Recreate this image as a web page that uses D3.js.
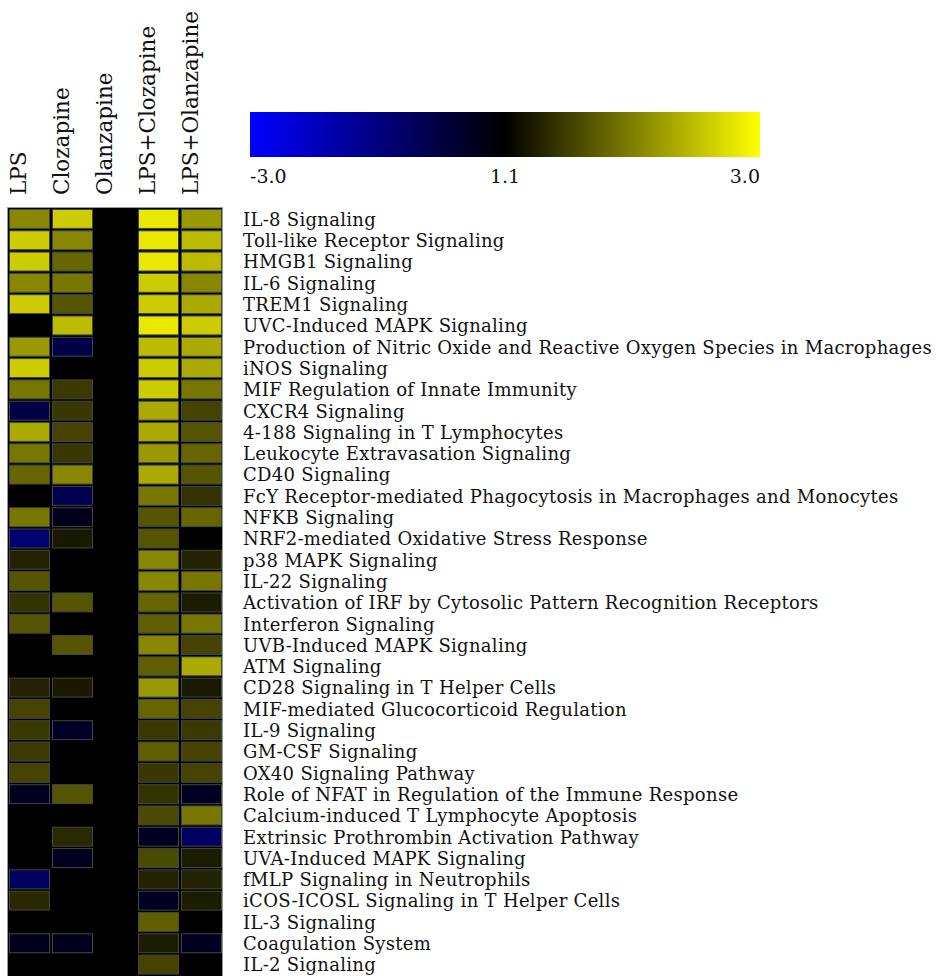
<!DOCTYPE html>
<html>
<head>
<meta charset="utf-8">
<script src="https://cdn.jsdelivr.net/npm/d3@7"></script>
<style>
  body { margin: 0; background: #fff; }
  text { font-family: "DejaVu Serif", "Liberation Serif", serif; fill: #111; }
</style>
</head>
<body>
<svg id="chart" width="943" height="976"></svg>
<script>
// conditions (columns)
const conditions = ['LPS', 'Clozapine', 'Olanzapine', 'LPS+Clozapine', 'LPS+Olanzapine'];

// canonical pathways (rows)
const pathways = [
  'IL-8 Signaling',
  'Toll-like Receptor Signaling',
  'HMGB1 Signaling',
  'IL-6 Signaling',
  'TREM1 Signaling',
  'UVC-Induced MAPK Signaling',
  'Production of Nitric Oxide and Reactive Oxygen Species in Macrophages',
  'iNOS Signaling',
  'MIF Regulation of Innate Immunity',
  'CXCR4 Signaling',
  '4-188 Signaling in T Lymphocytes',
  'Leukocyte Extravasation Signaling',
  'CD40 Signaling',
  'FcY Receptor-mediated Phagocytosis in Macrophages and Monocytes',
  'NFKB Signaling',
  'NRF2-mediated Oxidative Stress Response',
  'p38 MAPK Signaling',
  'IL-22 Signaling',
  'Activation of IRF by Cytosolic Pattern Recognition Receptors',
  'Interferon Signaling',
  'UVB-Induced MAPK Signaling',
  'ATM Signaling',
  'CD28 Signaling in T Helper Cells',
  'MIF-mediated Glucocorticoid Regulation',
  'IL-9 Signaling',
  'GM-CSF Signaling',
  'OX40 Signaling Pathway',
  'Role of NFAT in Regulation of the Immune Response',
  'Calcium-induced T Lymphocyte Apoptosis',
  'Extrinsic Prothrombin Activation Pathway',
  'UVA-Induced MAPK Signaling',
  'fMLP Signaling in Neutrophils',
  'iCOS-ICOSL Signaling in T Helper Cells',
  'IL-3 Signaling',
  'Coagulation System',
  'IL-2 Signaling'
];

// values per condition, same order as pathways (null = not scored)
const lpsValues = [
  2.11, 2.62, 2.62, 2.11, 2.62, null, 2.24, 2.62, 1.99, 0.01,
  2.37, 1.99, 1.86, null, 1.99, -0.70, 1.35, 1.73, 1.48, 1.73,
  null, null, 1.35, 1.61, 1.53, 1.53, 1.61, 0.59, null, null,
  null, -0.44, 1.41, null, 0.65, null
];
const clozapineValues = [
  2.62, 2.11, 1.86, 1.99, 1.73, 2.49, -0.06, null, 1.53, 1.52,
  1.61, 1.52, 2.11, -0.17, 0.65, 1.29, null, null, 1.73, null,
  1.73, null, 1.29, null, 0.49, null, null, 1.73, null, 1.41,
  0.62, null, null, null, 0.65, null
];
const olanzapineValues = new Array(pathways.length).fill(null);
const lpsClozapineValues = [
  2.83, 2.83, 2.83, 2.62, 2.62, 2.83, 2.49, 2.62, 2.62, 2.37,
  2.37, 2.24, 2.37, 1.99, 1.73, 1.73, 2.11, 2.11, 1.86, 1.81,
  2.11, 1.81, 2.24, 1.86, 1.53, 1.81, 1.52, 1.48, 1.65, 0.59,
  1.65, 1.35, 0.59, 1.81, 1.31, 1.61
];
const lpsOlanzapineValues = [
  2.24, 2.49, 2.49, 2.11, 2.37, 2.62, 2.37, 2.37, 1.99, 1.61,
  1.73, 1.86, 1.73, 1.48, 1.86, null, 1.35, 1.99, 1.31, 1.99,
  1.61, 2.37, 1.29, 1.61, 1.53, 1.61, 1.61, 0.55, 1.99, -0.44,
  1.31, 1.35, 1.31, null, 0.55, null
];
const seriesValues = [lpsValues, clozapineValues, olanzapineValues, lpsClozapineValues, lpsOlanzapineValues];

// legend
const legendStops = [-3.0, 1.1, 3.0];
const legendLabels = ['-3.0', '1.1', '3.0'];

const svg = d3.select('#chart');

const color = d3.scaleLinear()
  .domain(legendStops)
  .range(['#0000ff', '#000000', '#ffff00'])
  .clamp(true);

const x = d3.scaleBand()
  .domain(conditions)
  .range([9, 222])
  .paddingInner(2 / 43);

const rowStep = 21.3;
const y = d3.scaleBand()
  .domain(pathways)
  .range([209, 209 + 35 * rowStep + 20])
  .paddingInner(1.4 / rowStep);

const cells = [];
conditions.forEach((c, ci) => {
  pathways.forEach((p, pi) => {
    cells.push({ condition: c, pathway: p, value: seriesValues[ci][pi] });
  });
});

// grid background
svg.append('rect')
  .attr('x', 7.5)
  .attr('y', 207.5)
  .attr('width', 215)
  .attr('height', 800)
  .attr('fill', '#000')
  .attr('stroke', '#9a9a9a')
  .attr('stroke-width', 1);

svg.append('g')
  .attr('class', 'cells')
  .selectAll('rect')
  .data(cells.filter((d) => d.value !== null))
  .enter()
  .append('rect')
  .attr('x', (d) => x(d.condition) + 0.5)
  .attr('y', (d) => y(d.pathway) + 0.5)
  .attr('width', x.bandwidth() - 1)
  .attr('height', y.bandwidth() - 1)
  .attr('fill', (d) => color(d.value))
  .attr('stroke', '#454545')
  .attr('stroke-width', 1);

// column headers
svg.append('g')
  .attr('class', 'col-labels')
  .selectAll('text')
  .data(conditions)
  .enter()
  .append('text')
  .attr('transform', (d) => `translate(${x(d) + x.bandwidth() / 2 - 4},195) rotate(-90)`)
  .attr('font-size', 21.5)
  .text((d) => d);

// row labels
svg.append('g')
  .attr('class', 'row-labels')
  .selectAll('text')
  .data(pathways)
  .enter()
  .append('text')
  .attr('x', 243)
  .attr('y', (d) => y(d) + y.bandwidth() / 2)
  .attr('dy', '0.38em')
  .attr('font-size', 18)
  .attr('letter-spacing', 0.3)
  .text((d) => d);

// colour legend
const legendX = d3.scaleLinear().domain(legendStops).range([250, 505, 760]);

const grad = svg.append('defs')
  .append('linearGradient')
  .attr('id', 'legend-grad')
  .attr('x1', '0%')
  .attr('x2', '100%');

d3.range(0, 1.0001, 0.05).forEach((t) => {
  const v = legendX.invert(250 + t * 510);
  grad.append('stop')
    .attr('offset', `${t * 100}%`)
    .attr('stop-color', color(v));
});

svg.append('rect')
  .attr('x', legendX(-3))
  .attr('y', 112)
  .attr('width', legendX(3) - legendX(-3))
  .attr('height', 45)
  .attr('fill', 'url(#legend-grad)');

svg.append('g')
  .attr('class', 'legend-labels')
  .selectAll('text')
  .data(legendStops)
  .enter()
  .append('text')
  .attr('x', (d) => legendX(d))
  .attr('y', 183)
  .attr('font-size', 19)
  .attr('text-anchor', (d, i) => (i === 0 ? 'start' : i === legendStops.length - 1 ? 'end' : 'middle'))
  .text((d, i) => legendLabels[i]);
</script>
</body>
</html>
